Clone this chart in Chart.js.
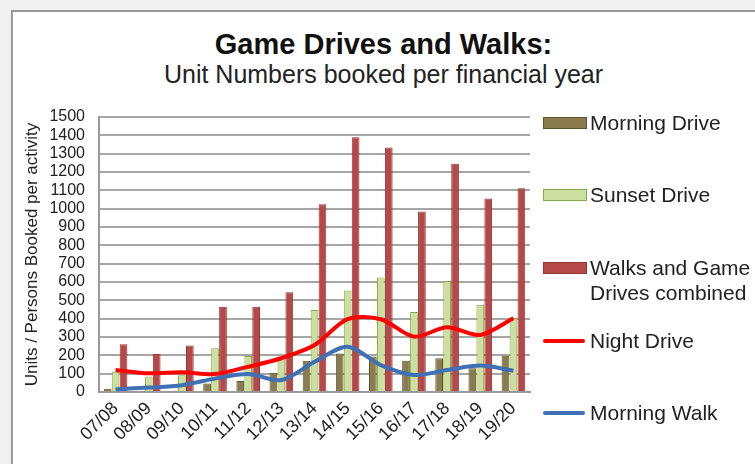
<!DOCTYPE html>
<html>
<head>
<meta charset="utf-8">
<script src="https://cdn.jsdelivr.net/npm/chart.js@4.4.1/dist/chart.umd.min.js"></script>
<style>
  html, body { margin: 0; padding: 0; background: #f0f0f0; font-family: "Liberation Sans", Arial, sans-serif; }
  #wrap { position: relative; width: 755px; height: 464px; overflow: hidden; }
  #frame { position: absolute; left: 11px; top: 10px; width: 800px; height: 500px; background: #fff; border: 2px solid #9a9a9a; }
  #myChart { position: absolute; left: 0; top: 0; }
  .title { position: absolute; left: 12px; width: 743px; text-align: center; color: #111; }
  #t1 { top: 28px; font-size: 29px; font-weight: bold; }
  #t2 { top: 60px; font-size: 25px; color: #222; }
  #legend { position: absolute; left: 543px; top: 0; }
  .item { position: absolute; left: 0; width: 215px; font-size: 21px; color: #222; line-height: 25px; }
  .sw { position: absolute; left: 0; width: 42px; }
  .txt { position: absolute; left: 47px; white-space: nowrap; }
</style>
</head>
<body>
<div id="wrap">
  <div id="frame"></div>
  <div class="title" id="t1">Game Drives and Walks:</div>
  <div class="title" id="t2">Unit Numbers booked per financial year</div>
  <canvas id="myChart" width="755" height="464"></canvas>
  <div id="legend"></div>
</div>
<script>
// eixo X: anos financeiros
var years = ['07/08','08/09','09/10','10/11','11/12','12/13','13/14','14/15','15/16','16/17','17/18','18/19','19/20'];

// barras
var morningDrive = [18,4,6,47,60,105,171,210,193,171,184,130,198];
var sunsetDrive = [110,84,91,238,196,192,447,553,624,436,605,476,402];
var walksCombined = [260,207,253,465,465,544,1024,1390,1333,985,1245,1056,1111];

// linhas
var nightDrive = [120,102,108,98,138,184,256,397,397,302,353,311,402];
var morningWalk = [15,24,37,73,98,65,165,247,147,93,120,144,116];

var ctx = document.getElementById("myChart");
var myChart = new Chart(ctx, {
  type: 'bar',
  data: {
    labels: years,
    datasets: [
      {
        label: 'Morning Drive',
        data: morningDrive,
        backgroundColor: '#8a7c4c',
        borderColor: '#5e532f',
        borderWidth: 1,
        categoryPercentage: 0.72,
        barPercentage: 0.97,
        order: 2
      },
      {
        label: 'Sunset Drive',
        data: sunsetDrive,
        backgroundColor: '#cddf9f',
        borderColor: '#86a94a',
        borderWidth: 1,
        categoryPercentage: 0.72,
        barPercentage: 0.97,
        order: 2
      },
      {
        label: 'Walks and Game\nDrives combined',
        data: walksCombined,
        backgroundColor: '#b54848',
        borderColor: '#963636',
        borderWidth: 1,
        categoryPercentage: 0.72,
        barPercentage: 0.97,
        order: 2
      },
      {
        type: 'line',
        label: 'Night Drive',
        data: nightDrive,
        borderColor: '#ff0000',
        backgroundColor: '#ff0000',
        borderWidth: 4,
        pointRadius: 0,
        tension: 0.3,
        fill: false,
        order: 1
      },
      {
        type: 'line',
        label: 'Morning Walk',
        data: morningWalk,
        borderColor: '#3f70b4',
        backgroundColor: '#3f70b4',
        borderWidth: 4,
        pointRadius: 0,
        tension: 0.3,
        fill: false,
        order: 0
      }
    ]
  },
  options: {
    responsive: false,
    animation: false,
    layout: { padding: { top: 117, right: 225, bottom: 0, left: 22 } },
    plugins: {
      legend: { display: false },
      tooltip: { enabled: false }
    },
    scales: {
      x: {
        grid: { display: false, drawTicks: false },
        border: { color: '#9a9a9a', width: 2 },
        ticks: {
          autoSkip: false,
          minRotation: 45,
          maxRotation: 45,
          padding: 6,
          color: '#222',
          font: { family: 'Liberation Sans', size: 18 }
        },
        afterFit: function(scale) { scale.height = 72; }
      },
      y: {
        min: 0,
        max: 1500,
        ticks: {
          autoSkip: false,
          stepSize: 100,
          padding: 14,
          color: '#222',
          font: { family: 'Liberation Sans', size: 16 },
          callback: function(v) { return String(v); }
        },
        grid: { color: '#a6a6a6', lineWidth: 2, drawTicks: false },
        border: { color: '#9a9a9a', width: 2 },
        title: {
          display: true,
          text: 'Units / Persons Booked per activity',
          color: '#222',
          padding: 0,
          font: { family: 'Liberation Sans', size: 17 }
        },
        afterFit: function(scale) { scale.width = 77; }
      }
    }
  }
});

// legenda feita à mão, à direita
var legendY = [123, 195, 268, 341, 413];
var leg = document.getElementById('legend');
myChart.data.datasets.forEach(function(ds, i) {
  var item = document.createElement('div');
  item.className = 'item';
  item.style.top = (legendY[i] - 13) + 'px';
  var sw = document.createElement('div');
  sw.className = 'sw';
  if (ds.type === 'line') {
    sw.style.top = '11px';
    sw.style.height = '4px';
    sw.style.borderRadius = '2px';
    sw.style.background = ds.borderColor;
  } else {
    sw.style.top = '7px';
    sw.style.height = '10px';
    sw.style.background = ds.backgroundColor;
    sw.style.border = '1px solid ' + ds.borderColor;
  }
  var txt = document.createElement('div');
  txt.className = 'txt';
  txt.innerHTML = ds.label.replace('\n', '<br>');
  item.appendChild(sw);
  item.appendChild(txt);
  leg.appendChild(item);
});
</script>
</body>
</html>
